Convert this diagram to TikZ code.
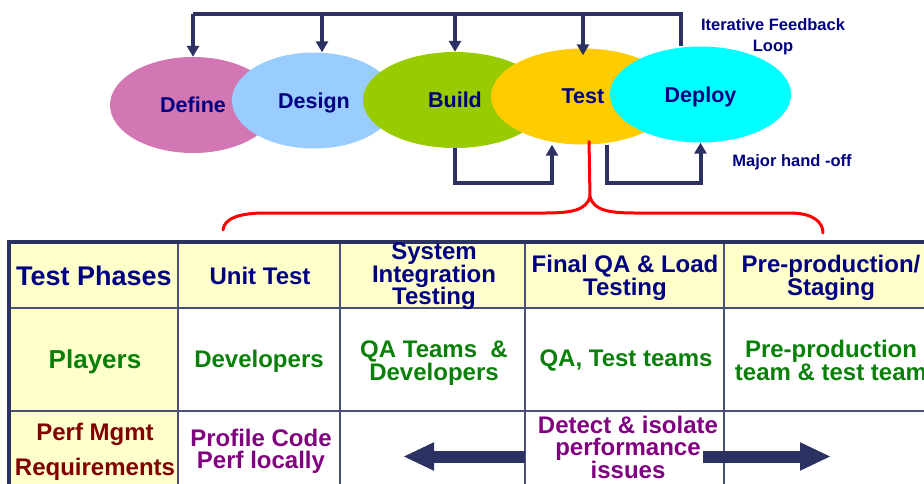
\documentclass[tikz,border=0pt]{standalone}
\usepackage{fontspec}
\setmainfont{Liberation Sans}
\usetikzlibrary{shapes.geometric,arrows.meta}
\definecolor{navyline}{HTML}{2B3160}
\definecolor{navytext}{HTML}{000080}
\definecolor{greentext}{HTML}{0A800A}
\definecolor{redtext}{HTML}{800000}
\definecolor{purpletext}{HTML}{800080}
\definecolor{definefill}{HTML}{D277B4}
\definecolor{designfill}{HTML}{99CCFF}
\definecolor{buildfill}{HTML}{99CC00}
\definecolor{testfill}{HTML}{FFCC00}
\definecolor{deployfill}{HTML}{00FFFF}
\definecolor{cellyellow}{HTML}{FFFFCC}
\begin{document}
\begin{tikzpicture}[x=1pt,y=-1pt,
    phase/.style={ellipse,inner sep=0pt,minimum width=#1,minimum height=96pt,
                  text depth=0pt,text=navytext,
                  font=\bfseries\fontsize{21.5}{21.5}\selectfont},
    note/.style={inner sep=0pt,align=center,text=navytext,
                 font=\bfseries\fontsize{16.5}{21}\selectfont},
    fbline/.style={draw=navyline,line width=4pt},
    fbarr/.style={fbline,-{Triangle[length=11pt,width=12pt]}},
    bracel/.style={draw=red,line width=3pt},
    gridline/.style={draw=navyline!85,line width=1.6pt},
    frame/.style={draw=navyline,line width=4pt},
    hdr/.style={inner sep=0pt,align=center,text=navytext,
                font=\bfseries\fontsize{24}{22.5}\selectfont},
    play/.style={inner sep=0pt,align=center,text=greentext,
                 font=\bfseries\fontsize{24}{21.5}\selectfont},
    perf/.style={inner sep=0pt,align=center,text=purpletext,
                 font=\bfseries\fontsize{24}{21.5}\selectfont},
    bigarr/.style={draw=navyline,line width=12pt,-{Triangle[length=31pt,width=26pt]}}]
\useasboundingbox (0,0) rectangle (924,483);
\fill[cellyellow] (9,242) rectangle (178,490);
\fill[cellyellow] (178,242) rectangle (930,308);
\draw[gridline] (178,242) -- (178,490);
\draw[gridline] (340,242) -- (340,490);
\draw[gridline] (525,242) -- (525,490);
\draw[gridline] (724,242) -- (724,490);
\draw[gridline] (9,308) -- (930,308);
\draw[gridline] (9,411) -- (930,411);
\draw[frame] (9,490) -- (9,242) -- (930,242);
\node[phase=166pt,fill=definefill] (define) at (193,105)   {Define};
\node[phase=164pt,fill=designfill] (design) at (314,100.5) {Design};
\node[phase=184pt,fill=buildfill]  (build)  at (455,100)   {Build};
\node[phase=184pt,fill=testfill]   (test)   at (583,96.5)  {Test};
\node[phase=181pt,fill=deployfill] (deploy) at (700.5,94.5){Deploy};
\coordinate (loop) at (0,14);
\coordinate (hand) at (0,183);
\draw[fbline] ([xshift=-20pt]deploy.north) |- (define.north |- loop);
\draw[fbarr] (define.north |- loop) -- (define.north);
\draw[fbarr] ([xshift=8pt]design.north |- loop) -- ([xshift=8pt]design.north);
\draw[fbarr] (build.north |- loop) -- (build.north);
\draw[fbarr] (test.north |- loop) -- ([yshift=-7pt]test.north);
\draw[fbarr] (build.south) -- (build.south |- hand) -| ([xshift=-31pt]test.south);
\draw[fbarr] ([xshift=24pt]test.south) -- ([xshift=24pt]test.south |- hand) -| (deploy.south);
\node[note] (fbnote)   at (773,37)  {Iterative Feedback\\Loop};
\node[note] (handnote) at (792,162) {Major hand -off};
\coordinate (tip) at (590,197);
\draw[bracel] ([xshift=6pt,yshift=4pt]test.south) -- (tip);
\draw[bracel,line cap=round] (tip) .. controls (586,210) and (572,213) .. (545,213)
    -- (265,213) .. controls (238,213) and (224,219) .. (223,230);
\draw[bracel,line cap=round] (tip) .. controls (594,210) and (608,213) .. (635,213)
    -- (790,213) .. controls (813,213) and (823,222) .. (823,233);
\node[hdr,font=\bfseries\fontsize{27}{27}\selectfont] (tphases) at (94,276) {Test Phases};
\node[hdr] (unit)   at (260,276)   {Unit Test};
\node[hdr] (sit)    at (434,276.5) {System\\Integration\\Testing};
\node[hdr] (final)  at (625,278)   {Final QA \& Load\\Testing};
\node[hdr] (staging) at (831,278)  {Pre-production/\\Staging};
\node[play,font=\bfseries\fontsize{26}{26}\selectfont] (players) at (95,362) {Players};
\node[play] (devs)   at (259,361.5) {Developers};
\node[play] (qadevs) at (434,363.5) {QA Teams~~\&\\Developers};
\node[play] (qatest) at (626,360)   {QA, Test teams};
\node[play] (preteam) at (831,360.5) {Pre-production\\team \& test team};
\node[inner sep=0pt,align=center,text=redtext,
      font=\bfseries\fontsize{24}{35}\selectfont] (perfreq) at (95,451.5) {Perf Mgmt\\Requirements};
\node[perf] (profile) at (261,451.5) {Profile Code\\Perf locally};
\node[perf] (detect)  at (628,447.5) {Detect \& isolate\\performance\\issues};
\coordinate (ltip) at (403,456.5);
\coordinate (rtip) at (831,456.5);
\draw[bigarr] ([xshift=-13pt]detect.west |- ltip) -- (ltip);
\draw[bigarr] ([xshift=-15pt]detect.east |- rtip) -- (rtip);
\end{tikzpicture}
\end{document}
